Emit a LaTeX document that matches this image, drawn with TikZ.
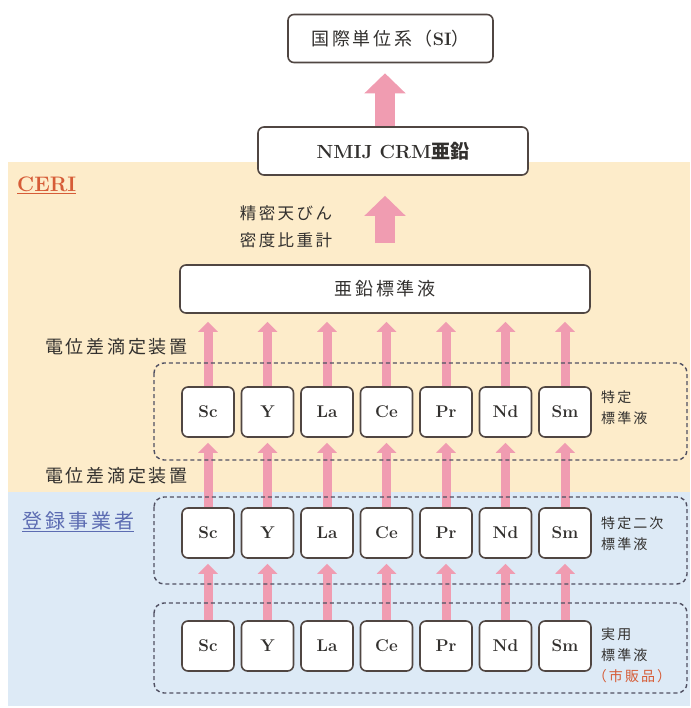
\documentclass[tikz,border=0pt]{standalone}
\usepackage{fontspec}
\newfontfamily\jp{Noto Sans CJK JP}
\newfontfamily\jpwide[LetterSpace=15]{Noto Sans CJK JP}
\usetikzlibrary{arrows.meta}
\definecolor{ceribg}{RGB}{253,236,202}
\definecolor{regbg}{RGB}{221,234,246}
\definecolor{pinkarrow}{RGB}{240,156,177}
\definecolor{boxline}{RGB}{80,70,66}
\definecolor{dashline}{RGB}{80,80,98}
\definecolor{ink}{RGB}{50,48,46}
\definecolor{ceritext}{RGB}{214,92,55}
\definecolor{regtext}{RGB}{92,108,178}
\tikzset{
  elbox/.style={draw=boxline, line width=1.6pt, fill=white, rounded corners=6pt,
    minimum width=52pt, minimum height=50pt, inner sep=0pt, text=ink,
    font=\fontsize{17}{17}\selectfont\bfseries},
  widebox/.style={elbox, minimum height=48pt},
  grpbox/.style={draw=dashline, line width=1.4pt, dash pattern=on 4pt off 3pt, rounded corners=10pt},
  uparrow/.style={draw=pinkarrow, line width=9pt, -{Triangle[width=19pt,length=10pt]}},
  bigarrow/.style={draw=pinkarrow, line width=20pt, -{Triangle[width=40pt,length=20pt]}},
  jplabel/.style={anchor=west, inner sep=0pt, text=ink, font=\fontsize{18}{18}\selectfont\jpwide},
  sidelabel/.style={anchor=west, inner sep=0pt, align=left, text=ink, font=\fontsize{14}{21}\selectfont\jpwide},
}
\begin{document}
\begin{tikzpicture}[x=1pt, y=-1pt]
  \useasboundingbox (0,0) rectangle (690,708);
  % backgrounds
  \fill[ceribg] (8,162) rectangle (690,492);
  \fill[regbg] (8,492) rectangle (690,706);

  \node[anchor=west, inner sep=0pt, text=ceritext, font=\fontsize{21}{21}\selectfont\bfseries] (ceri) at (17,185) {\underline{CERI}};
  \node[anchor=west, inner sep=0pt, text=regtext, font=\fontsize{20}{20}\selectfont\jpwide] (reg) at (22,522) {\underline{登録事業者}};

  % top chain
  \coordinate (spine) at (385,0);
  \node[widebox, minimum width=205pt, font=\fontsize{18}{18}\selectfont\jpwide] (si) at (390.5,38.5) {国際単位系（{\normalfont\bfseries SI}）};
  \node[widebox, minimum width=270pt, font=\fontsize{19}{19}\selectfont\bfseries] (nmij) at (393,151) {NMIJ CRM{\jp 亜鉛}};
  \node[widebox, minimum width=410pt, font=\fontsize{18}{18}\selectfont\jpwide] (zinc) at (385,289) {亜鉛標準液};
  \draw[bigarrow, shorten >=10pt] (spine |- nmij.north) -- (spine |- si.south);
  \draw[bigarrow, shorten <=21pt, shorten >=20pt] (spine |- zinc.north) -- (spine |- nmij.south);
  \node[anchor=center, inner sep=0pt, align=left, text=ink, font=\fontsize{16.5}{27}\selectfont\jpwide] (bal) at (286,227) {精密天びん\\密度比重計};

  % element rows
  \foreach \el [count=\i from 0] in {Sc,Y,La,Ce,Pr,Nd,Sm} {
    \node[elbox] (a\i) at (208+59.5*\i,412) {\el};
    \node[elbox] (b\i) at (208+59.5*\i,533) {\el};
    \node[elbox] (c\i) at (208+59.5*\i,646) {\el};
  }
  \foreach \i in {0,...,6} {
    \draw[uparrow, shorten >=8pt] (a\i.north) -- (a\i.north |- zinc.south);
    \draw[uparrow, shorten >=5pt] (b\i.north) -- (a\i.south);
    \draw[uparrow, shorten >=5pt] (c\i.north) -- (b\i.south);
  }

  % groups
  \draw[grpbox] (154,363) rectangle (687,460);
  \draw[grpbox] (154,497) rectangle (687,584);
  \draw[grpbox] (154,603) rectangle (687,693);

  \node[jplabel] (titr1) at (45,347) {電位差滴定装置};
  \node[jplabel] (titr2) at (45,476) {電位差滴定装置};
  \node[sidelabel] (lab1) at (601,408) {特定\\標準液};
  \node[sidelabel] (lab2) at (601,534) {特定二次\\標準液};
  \node[sidelabel] (lab3) at (601,655) {実用\\標準液\\\hspace*{-0.6em}{\color{ceritext}（市販品）}};
\end{tikzpicture}
\end{document}
